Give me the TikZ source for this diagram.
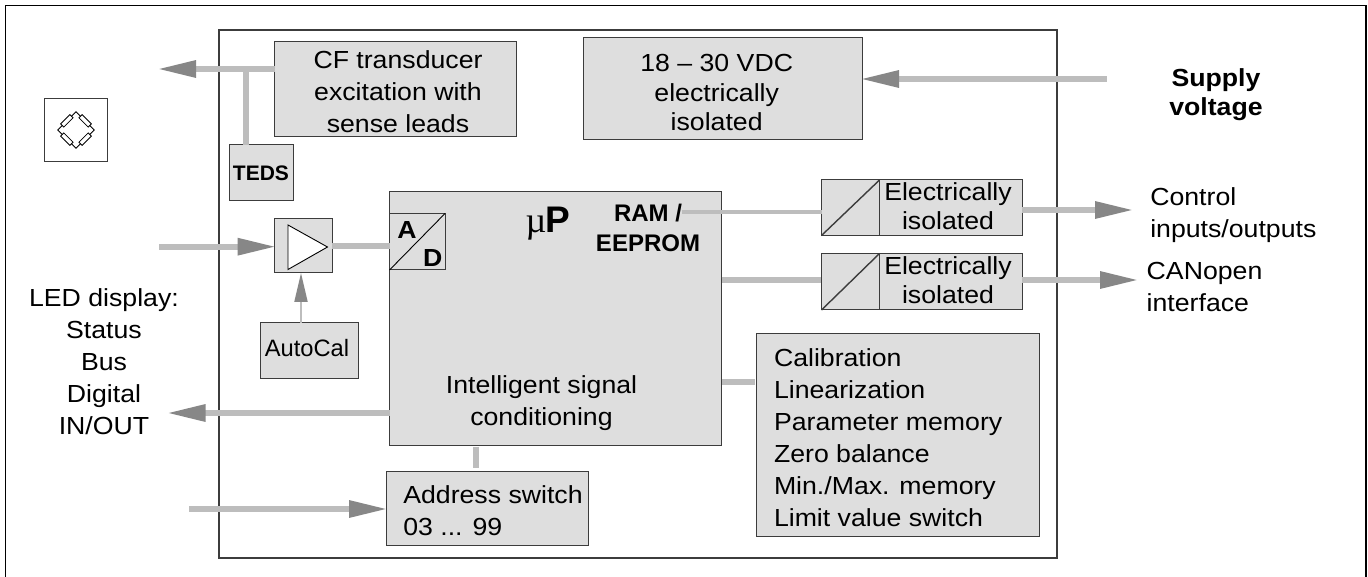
\documentclass[tikz,border=0pt]{standalone}
\usepackage{fontspec}
\setmainfont[FakeStretch=1.08]{Liberation Sans}
\newfontfamily\plainsans{Liberation Sans}
\newfontfamily\muserif{Liberation Serif}
\usetikzlibrary{arrows.meta,calc}
\definecolor{boxfill}{HTML}{DEDEDE}
\definecolor{linkgray}{HTML}{BDBDBD}
\definecolor{headgray}{HTML}{878787}
\definecolor{edgegray}{HTML}{3C3C3C}
\tikzset{
  every node/.style={inner sep=0pt,outer sep=0pt},
  boxshape/.style={draw=edgegray,line width=1pt,fill=boxfill},
  lbl/.style={font=\fontsize{24.7}{32}\selectfont,text=black,align=center},
  lblleft/.style={font=\fontsize{24.7}{32}\selectfont,text=black,align=left},
  lblbold/.style={font=\fontsize{24}{29.3}\selectfont\plainsans\bfseries,text=black,align=center},
  supplyfont/.style={font=\fontsize{24.7}{29}\selectfont\bfseries,text=black,align=center},
  iso/.style={font=\fontsize{24.7}{29}\selectfont,text=black,align=center},
  link/.style={draw=linkgray,line width=6pt},
  thinlink/.style={draw=linkgray,line width=4pt},
  arrowlink/.style={link,shorten >=-2pt,-{Triangle[length=39pt,width=16pt,color=headgray]}},
  diag/.style={draw=edgegray,line width=1.4pt},
  resistor/.style={draw=black,line width=.8pt,fill=white,minimum width=13pt,minimum height=4.5pt},
}
\newcommand{\boxnode}[6][]{%
  \pgfmathsetmacro{\bw}{#5-#3}\pgfmathsetmacro{\bh}{#6-#4}%
  \pgfmathsetmacro{\bx}{(#3+#5)/2}\pgfmathsetmacro{\by}{(#4+#6)/2}%
  \node[boxshape,minimum width=\bw pt,minimum height=\bh pt,#1] (#2) at (\bx,\by) {};}
\begin{document}
\begin{tikzpicture}[x=1pt,y=-1pt]
\useasboundingbox (0,0) rectangle (1368,577);
\draw[draw=black,line width=1.5pt] (5.5,577) -- (5.5,5.5) -- (1366,5.5) -- (1366,577);
\boxnode[fill=white,draw=edgegray,line width=1.2pt]{inner}{219}{30}{1057}{558}
\boxnode{cf}{274.5}{42}{516}{137}
\boxnode{supply}{583}{38}{862}{140}
\boxnode{teds}{229}{145}{293}{201}
\boxnode{amp}{274.5}{219}{332}{273}
\boxnode{autocal}{260}{323}{358.5}{378}
\boxnode{main}{389.5}{192}{721.5}{445}
\boxnode[fill=none]{ad}{389.5}{213.5}{445}{270}
\boxnode{addr}{386}{471}{588}{545.5}
\boxnode{isoA}{821.5}{180}{879.5}{235.5}
\boxnode{isoAt}{879.5}{180}{1022}{235.5}
\boxnode{isoB}{821.5}{253.5}{879.5}{310}
\boxnode{isoBt}{879.5}{253.5}{1022}{310}
\boxnode{calib}{756.5}{333}{1039}{536}
\boxnode[fill=white]{sensor}{44.7}{98.7}{107.3}{161.3}
% diagonals
\draw[draw=black,line width=.9pt] (ad.south west) -- (ad.north east);
\draw[diag] (isoA.south west) -- (isoA.north east);
\draw[diag] (isoB.south west) -- (isoB.north east);
% amplifier triangle
\draw[draw=black,line width=.9pt,fill=white] (288,225) -- (327.5,247) -- (288,269.5) -- cycle;
% bridge
\coordinate (bt) at (76,111.7);
\coordinate (br) at (94.3,130);
\coordinate (bb) at (76,148.3);
\coordinate (bl) at (57.7,130);
\draw[draw=black,line width=.8pt] (bt) -- (br) -- (bb) -- (bl) -- cycle;
\node[resistor,rotate=45] (r1) at ($(bl)!.5!(bt)$) {};
\node[resistor,rotate=-45] (r2) at ($(bt)!.5!(br)$) {};
\node[resistor,rotate=45] (r3) at ($(bb)!.5!(br)$) {};
\node[resistor,rotate=-45] (r4) at ($(bl)!.5!(bb)$) {};
% free connector ends and levels
\coordinate (cfout) at (159,69);
\coordinate (ampin) at (159,246.7);
\coordinate (ledout) at (168.5,413);
\coordinate (addrin) at (189,509);
\coordinate (supin) at (1106.5,79);
\coordinate (ctrlout) at (1132,210);
\coordinate (canout) at (1137,280);
\coordinate (ramstart) at (682,212);
\coordinate (lvA) at (0,246);
\coordinate (lvB) at (0,280);
\coordinate (lvC) at (0,382);
\coordinate (lvD) at (476,0);
% connectors
\draw[arrowlink] (cf.west |- cfout) -- (cfout);
\draw[link] (teds.north -| 246,0) -- (246,69);
\draw[arrowlink] (ampin) -- (amp.west |- ampin);
\draw[link] (amp.east |- lvA) -- (ad.west |- lvA);
\draw[draw=linkgray,line width=2pt,-{Triangle[length=29pt,width=13pt,color=headgray]}] (autocal.north -| 301,0) -- (amp.south -| 301,0);
\draw[arrowlink] (main.west |- ledout) -- (ledout);
\draw[arrowlink] (addrin) -- (addr.west |- addrin);
\draw[link,shorten >=3pt,shorten <=2pt] (main.south -| lvD) -- (addr.north -| lvD);
\draw[arrowlink] (supin) -- (supply.east |- supin);
\draw[link,shorten >=1pt] (main.east |- lvB) -- (isoB.west |- lvB);
\draw[link,shorten >=2pt] (main.east |- lvC) -- (calib.west |- lvC);
\draw[arrowlink] (isoAt.east |- ctrlout) -- (ctrlout);
\draw[arrowlink] (isoBt.east |- canout) -- (canout);
% texts
\node[lbl,anchor=center] (tcf) at (398,91.5) {CF transducer\\excitation with\\sense leads};
\node[font=\fontsize{24.7}{29.5}\selectfont,align=center,anchor=center] (tsup) at (716.7,92.8) {18 -- 30 VDC\\electrically\\isolated};
\node[font=\fontsize{21}{21}\selectfont\plainsans\bfseries,anchor=base] (tteds) at (261,181) {TEDS};
\node[font=\fontsize{24.7}{25}\selectfont\bfseries,anchor=base] (ta) at (407,239) {A};
\node[font=\fontsize{24.7}{25}\selectfont\bfseries,anchor=base] (td) at (432.7,266.7) {D};
\node[font=\fontsize{36}{36}\selectfont\muserif,anchor=base] (tmu) at (536,233) {µ};
\node[font=\fontsize{37}{37}\selectfont\plainsans\bfseries,anchor=base] (tp) at (558,233) {P};
\node[lblbold,anchor=center] (tram) at (648,227.9) {RAM /\\EEPROM};
\node[lbl,anchor=center] (tint) at (541.5,402.9) {Intelligent signal\\conditioning};
\node[font=\fontsize{23.7}{24}\selectfont\plainsans,anchor=base] (tauto) at (307,356.7) {AutoCal};
\node[lblleft,anchor=west] (taddr) at (403.3,510.2) {Address switch\\03 ... 99};
\node[lbl,anchor=center] (tled) at (104,361.2) {LED display:\\Status\\Bus\\Digital\\IN/OUT};
\node[iso,anchor=center] (tisoa) at (948,205.7) {Electrically\\isolated};
\node[iso,anchor=center] (tisob) at (948,280) {Electrically\\isolated};
\node[supplyfont,anchor=center] (tsupv) at (1216,95.1) {Supply\\voltage};
\node[lblleft,anchor=west] (tctrl) at (1150.3,215.6) {Control\\inputs/outputs};
\node[lblleft,anchor=west] (tcan) at (1146.7,287) {CANopen\\interface};
\node[lblleft,anchor=west] (tcal) at (774,437.9) {Calibration\\Linearization\\Parameter memory\\Zero balance\\Min./Max. memory\\Limit value switch};
% the RAM link runs over the slash
\draw[thinlink] (ramstart) -- (isoA.west |- ramstart);
\end{tikzpicture}
\end{document}
